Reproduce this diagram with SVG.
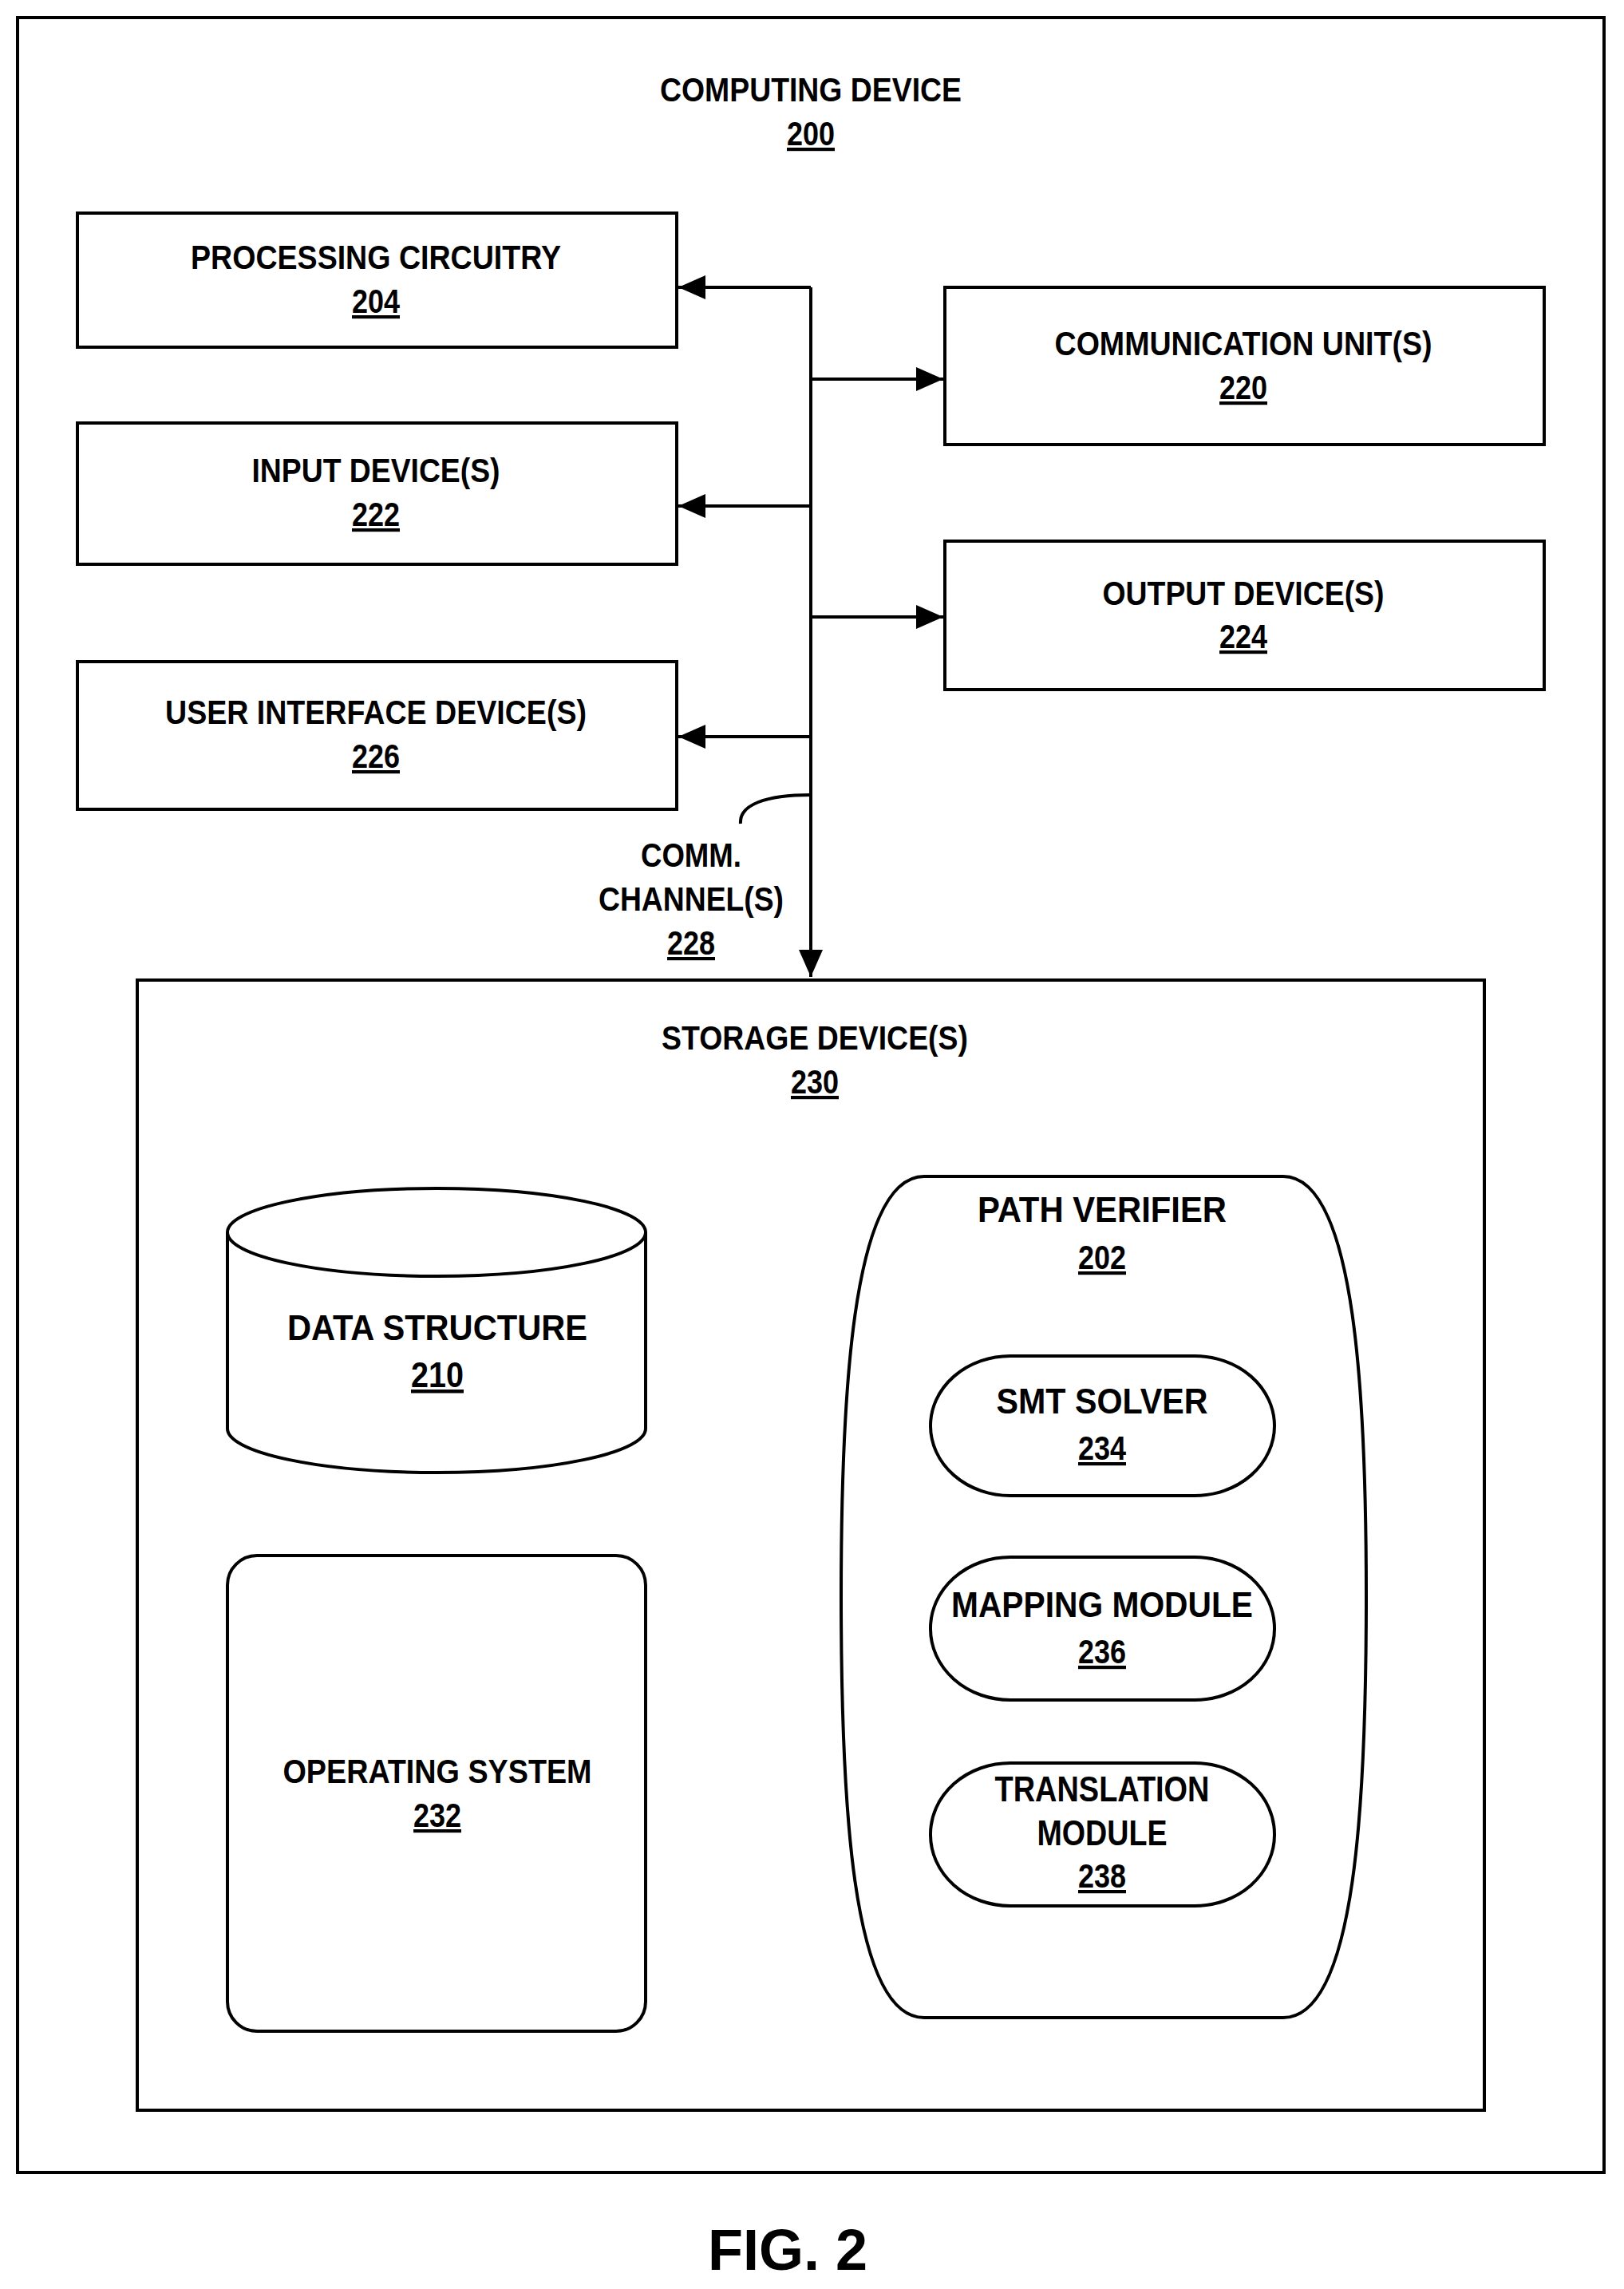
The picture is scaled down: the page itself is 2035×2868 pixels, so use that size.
<svg xmlns="http://www.w3.org/2000/svg" width="2035" height="2868" viewBox="0 0 2035 2868">
<style>
.b{fill:#fff;stroke:#000;stroke-width:4}
.t{font-family:"Liberation Sans",Arial,sans-serif;font-weight:bold;font-size:42px;text-anchor:middle;fill:#000}
.u{text-decoration:underline}
.c{fill:none;stroke:#000;stroke-width:4}
</style>
<defs>
<marker id="a" markerWidth="34" markerHeight="30" refX="34" refY="15" orient="auto" markerUnits="userSpaceOnUse"><path d="M0,0 L34,15 L0,30 Z" fill="#000"/></marker>
</defs>
<rect width="2035" height="2868" fill="#fff"/>
<g id="computing-device">
<rect class="b" x="22" y="22" width="1988" height="2700"/>
<text class="t" x="1016" y="127" textLength="378" lengthAdjust="spacingAndGlyphs">COMPUTING DEVICE</text>
<text class="t u" x="1016" y="182" textLength="60" lengthAdjust="spacingAndGlyphs">200</text>
</g>
<g id="processing">
<rect class="b" x="97" y="267" width="751" height="168"/>
<text class="t" x="471" y="337" textLength="464" lengthAdjust="spacingAndGlyphs">PROCESSING CIRCUITRY</text>
<text class="t u" x="471" y="392" textLength="60" lengthAdjust="spacingAndGlyphs">204</text>
</g>
<g id="input">
<rect class="b" x="97" y="530" width="751" height="177"/>
<text class="t" x="471" y="604" textLength="311" lengthAdjust="spacingAndGlyphs">INPUT DEVICE(S)</text>
<text class="t u" x="471" y="659" textLength="60" lengthAdjust="spacingAndGlyphs">222</text>
</g>
<g id="ui">
<rect class="b" x="97" y="829" width="751" height="185"/>
<text class="t" x="471" y="907" textLength="528" lengthAdjust="spacingAndGlyphs">USER INTERFACE DEVICE(S)</text>
<text class="t u" x="471" y="962" textLength="60" lengthAdjust="spacingAndGlyphs">226</text>
</g>
<g id="comm-unit">
<rect class="b" x="1184" y="360" width="751" height="197"/>
<text class="t" x="1558" y="445" textLength="473" lengthAdjust="spacingAndGlyphs">COMMUNICATION UNIT(S)</text>
<text class="t u" x="1558" y="500" textLength="60" lengthAdjust="spacingAndGlyphs">220</text>
</g>
<g id="output">
<rect class="b" x="1184" y="678" width="751" height="186"/>
<text class="t" x="1558" y="758" textLength="353" lengthAdjust="spacingAndGlyphs">OUTPUT DEVICE(S)</text>
<text class="t u" x="1558" y="812" textLength="60" lengthAdjust="spacingAndGlyphs">224</text>
</g>
<g id="connectors">
<path class="c" d="M1016,360 V1224" marker-end="url(#a)"/>
<path class="c" d="M1016,360 H850" marker-end="url(#a)"/>
<path class="c" d="M1016,634 H850" marker-end="url(#a)"/>
<path class="c" d="M1016,923 H850" marker-end="url(#a)"/>
<path class="c" d="M1016,475 H1182" marker-end="url(#a)"/>
<path class="c" d="M1016,773 H1182" marker-end="url(#a)"/>
<path class="c" d="M1016,996 C960,996 926,1008 928,1032"/>
</g>
<g id="comm-channel">
<text class="t" x="866" y="1086" textLength="126" lengthAdjust="spacingAndGlyphs">COMM.</text>
<text class="t" x="866" y="1141" textLength="232" lengthAdjust="spacingAndGlyphs">CHANNEL(S)</text>
<text class="t u" x="866" y="1196" textLength="60" lengthAdjust="spacingAndGlyphs">228</text>
</g>
<g id="storage">
<rect class="b" x="172" y="1228" width="1688" height="1416"/>
<text class="t" x="1021" y="1315" textLength="384" lengthAdjust="spacingAndGlyphs">STORAGE DEVICE(S)</text>
<text class="t u" x="1021" y="1370" textLength="60" lengthAdjust="spacingAndGlyphs">230</text>
</g>
<g id="data-structure">
<path class="b" d="M285,1544 V1790 A262,55 0 0 0 809,1790 V1544 A262,55 0 0 0 285,1544 Z"/>
<path class="c" d="M285,1544 A262,55 0 0 0 809,1544"/>
<text class="t" x="548" y="1679" style="font-size:45px" textLength="376" lengthAdjust="spacingAndGlyphs">DATA STRUCTURE</text>
<text class="t u" x="548" y="1738" style="font-size:45px" textLength="66" lengthAdjust="spacingAndGlyphs">210</text>
</g>
<g id="os">
<rect class="b" x="285" y="1949" width="524" height="596" rx="37"/>
<text class="t" x="548" y="2234" textLength="387" lengthAdjust="spacingAndGlyphs">OPERATING SYSTEM</text>
<text class="t u" x="548" y="2289" textLength="60" lengthAdjust="spacingAndGlyphs">232</text>
</g>
<g id="path-verifier">
<path class="b" d="M1158,1474 H1608 C1700,1474 1712,1760 1712,2000 C1712,2250 1700,2528 1608,2528 H1158 C1066,2528 1054,2250 1054,2000 C1054,1760 1066,1474 1158,1474 Z"/>
<text class="t" x="1381" y="1531" style="font-size:45px" textLength="312" lengthAdjust="spacingAndGlyphs">PATH VERIFIER</text>
<text class="t u" x="1381" y="1590" textLength="60" lengthAdjust="spacingAndGlyphs">202</text>
</g>
<g id="smt">
<rect class="b" x="1166" y="1699" width="431" height="175" rx="100" ry="88"/>
<text class="t" x="1381" y="1771" style="font-size:45px" textLength="265" lengthAdjust="spacingAndGlyphs">SMT SOLVER</text>
<text class="t u" x="1381" y="1829" textLength="60" lengthAdjust="spacingAndGlyphs">234</text>
</g>
<g id="mapping">
<rect class="b" x="1166" y="1951" width="431" height="179" rx="100" ry="89"/>
<text class="t" x="1381" y="2026" style="font-size:45px" textLength="378" lengthAdjust="spacingAndGlyphs">MAPPING MODULE</text>
<text class="t u" x="1381" y="2084" textLength="60" lengthAdjust="spacingAndGlyphs">236</text>
</g>
<g id="translation">
<rect class="b" x="1166" y="2209" width="431" height="179" rx="100" ry="89"/>
<text class="t" x="1381" y="2257" style="font-size:45px" textLength="269" lengthAdjust="spacingAndGlyphs">TRANSLATION</text>
<text class="t" x="1381" y="2312" style="font-size:45px" textLength="163" lengthAdjust="spacingAndGlyphs">MODULE</text>
<text class="t u" x="1381" y="2365" textLength="60" lengthAdjust="spacingAndGlyphs">238</text>
</g>
<text class="t" x="987" y="2844" style="font-size:72px">FIG. 2</text>
</svg>
